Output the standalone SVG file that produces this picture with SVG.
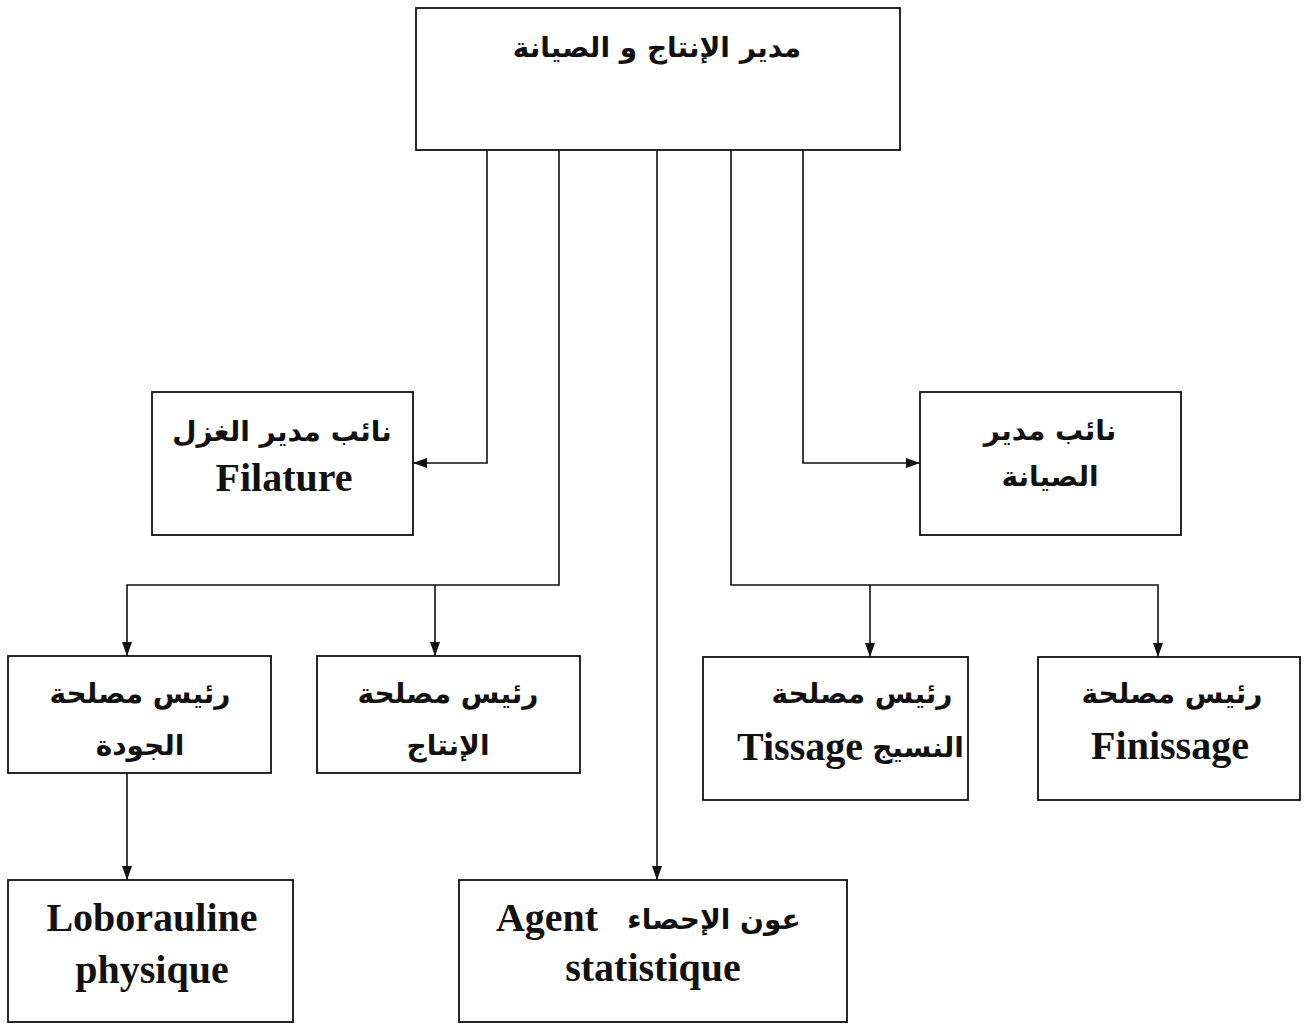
<svg xmlns="http://www.w3.org/2000/svg" width="1308" height="1028" viewBox="0 0 1308 1028">
<style>
.box{fill:#fff;stroke:#111;stroke-width:1.8}
.ar{font-family:"DejaVu Sans",sans-serif;font-weight:bold;font-size:28px;fill:#111;text-anchor:middle}
.la{font-family:"Liberation Serif",serif;font-weight:bold;font-size:40px;fill:#111;text-anchor:middle}
.ln{fill:none;stroke:#111;stroke-width:1.6}
</style>
<defs>
<marker id="ah" viewBox="0 0 14 10" refX="14" refY="5" markerWidth="14" markerHeight="10" markerUnits="userSpaceOnUse" orient="auto">
<path d="M0,0 L14,5 L0,10 Z" fill="#111"/>
</marker>
</defs>
<rect width="1308" height="1028" fill="#fff"/>
<g id="connectors">
<path class="ln" d="M487,150 V463 H413" marker-end="url(#ah)"/>
<path class="ln" d="M803,150 V463 H920" marker-end="url(#ah)"/>
<path class="ln" d="M559,150 V585 H127 V656" marker-end="url(#ah)"/>
<path class="ln" d="M435,585 V656" marker-end="url(#ah)"/>
<path class="ln" d="M657,150 V880" marker-end="url(#ah)"/>
<path class="ln" d="M731,150 V585 H1158 V657" marker-end="url(#ah)"/>
<path class="ln" d="M870,585 V657" marker-end="url(#ah)"/>
<path class="ln" d="M127,773 V880" marker-end="url(#ah)"/>
</g>
<g id="n-top">
<rect class="box" x="416" y="8" width="484" height="142"/>
<text class="ar" x="657" y="57" direction="rtl" font-size="32">مدير الإنتاج و الصيانة</text>
</g>
<g id="n-filature">
<rect class="box" x="152" y="392" width="261" height="143"/>
<text class="ar" x="282" y="441" direction="rtl">نائب مدير الغزل</text>
<text class="la" x="284" y="491">Filature</text>
</g>
<g id="n-maintenance">
<rect class="box" x="920" y="392" width="261" height="143"/>
<text class="ar" x="1050" y="440" direction="rtl">نائب مدير</text>
<text class="ar" x="1050" y="486" direction="rtl">الصيانة</text>
</g>
<g id="n-quality">
<rect class="box" x="8" y="656" width="263" height="117"/>
<text class="ar" x="140" y="703" direction="rtl">رئيس مصلحة</text>
<text class="ar" x="140" y="755" direction="rtl">الجودة</text>
</g>
<g id="n-production">
<rect class="box" x="317" y="656" width="263" height="117"/>
<text class="ar" x="448" y="703" direction="rtl">رئيس مصلحة</text>
<text class="ar" x="448" y="755" direction="rtl">الإنتاج</text>
</g>
<g id="n-tissage">
<rect class="box" x="703" y="657" width="265" height="143"/>
<text class="ar" x="862" y="703" direction="rtl">رئيس مصلحة</text>
<text class="la" x="800" y="760">Tissage</text>
<text class="ar" x="918" y="757" direction="rtl" font-size="25">النسيج</text>
</g>
<g id="n-finissage">
<rect class="box" x="1038" y="657" width="262" height="143"/>
<text class="ar" x="1172" y="703" direction="rtl">رئيس مصلحة</text>
<text class="la" x="1170" y="759">Finissage</text>
</g>
<g id="n-labo">
<rect class="box" x="8" y="880" width="285" height="142"/>
<text class="la" x="152" y="931">Loborauline</text>
<text class="la" x="152" y="983">physique</text>
</g>
<g id="n-agent">
<rect class="box" x="459" y="880" width="388" height="142"/>
<text class="la" x="547" y="931">Agent</text>
<text class="ar" x="714" y="929" direction="rtl" font-size="34">عون الإحصاء</text>
<text class="la" x="653" y="981">statistique</text>
</g>
</svg>
